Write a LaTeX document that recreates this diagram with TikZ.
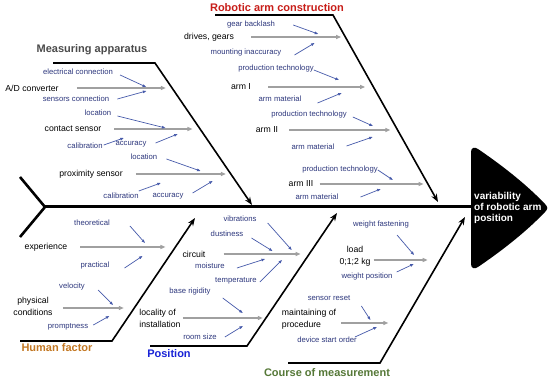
\documentclass[tikz,border=0pt]{standalone}
\usepackage{fontspec}
\setmainfont{Liberation Sans}
\usetikzlibrary{arrows.meta, positioning}
\definecolor{subblue}{RGB}{45,55,125}
\definecolor{tipblue}{RGB}{70,90,170}
\definecolor{shaftgray}{RGB}{160,160,160}
\definecolor{headgray}{RGB}{75,75,75}
\definecolor{armred}{RGB}{200,30,25}
\definecolor{humanorange}{RGB}{195,120,35}
\definecolor{posblue}{RGB}{25,35,215}
\definecolor{coursegreen}{RGB}{85,120,55}

\begin{document}
\begin{tikzpicture}[x=1pt, y=-1pt,
  cause/.style={inner sep=0pt, font=\fontsize{8.7}{12}\selectfont},
  sub/.style={inner sep=0pt, text=subblue, font=\fontsize{7.7}{9}\selectfont},
  cat/.style={inner sep=0pt, font=\bfseries\fontsize{11}{13}\selectfont},
  effect/.style={inner sep=0pt, align=left, text=white, font=\bfseries\fontsize{10}{11}\selectfont},
  shaft/.style={draw=shaftgray, line width=1.4pt, -{Triangle[length=5pt,width=4pt]}},
  twig/.style={draw=tipblue, line width=0.7pt, -{Triangle[length=3.5pt,width=2.6pt]}},
  bone/.style={draw=black, line width=1.6pt, -{Stealth[length=8pt,width=6pt]}}
]
  \useasboundingbox (0,0) rectangle (550,382);
  \fill[white] (0,0) rectangle (550,382);

  % spine and head
  \coordinate (t1) at (20,177);
  \coordinate (t0) at (45,207);
  \coordinate (t2) at (20,237);
  \coordinate (hd) at (471,207);
  \draw[line width=2.6pt] (t1) -- (t0) -- (t2);
  \draw[line width=3pt] (t0) -- (hd);
  \fill (471,152) .. controls (471,147) and (475,147) .. (478,149)
    .. controls (500,164) and (525,183) .. (545,204)
    .. controls (548,207) and (548,209) .. (545,212)
    .. controls (525,233) and (500,252) .. (478,267)
    .. controls (475,269) and (471,269) .. (471,264) -- cycle;
  \node[effect, anchor=west] (eff) at (474,208) {variability\\of robotic arm\\position};

  % bones
  \coordinate (ma1) at (53,63);  \coordinate (ma2) at (155,63);  \coordinate (ma3) at (252,205);
  \coordinate (ra1) at (215,15); \coordinate (ra2) at (333,15);  \coordinate (ra3) at (438,202);
  \coordinate (hf1) at (20,341); \coordinate (hf2) at (112,341); \coordinate (hf3) at (195,218);
  \coordinate (po1) at (150,346); \coordinate (po2) at (247,346); \coordinate (po3) at (337,213);
  \coordinate (cm1) at (288,363); \coordinate (cm2) at (380,363); \coordinate (cm3) at (465,217);
  \draw[bone] (ma1) -- (ma2) -- (ma3);
  \draw[bone] (ra1) -- (ra2) -- (ra3);
  \draw[bone] (hf1) -- (hf2) -- (hf3);
  \draw[bone] (po1) -- (po2) -- (po3);
  \draw[bone] (cm1) -- (cm2) -- (cm3);

  % Measuring apparatus
  \node[cat, text=headgray] (ma) at (92,50) {Measuring apparatus};
  \node[sub] (ec) at (78,72) {electrical connection};
  \node[cause] (ad) at (32,88) {A/D converter};
  \node[sub] (sc) at (76,99) {sensors connection};
  \node[sub] (lo1) at (98,113) {location};
  \node[cause] (cs) at (73,129) {contact sensor};
  \node[sub] (ca1) at (85,146) {calibration};
  \node[sub] (ac1) at (131,144) {accuracy};
  \node[sub] (lo2) at (144,157) {location};
  \node[cause] (ps) at (91,174) {proximity sensor};
  \node[sub] (ca2) at (121,196) {calibration};
  \node[sub] (ac2) at (168,196) {accuracy};
  \draw[shaft] (ad.east) ++(18,0) -- ++(89,0);
  \draw[shaft] (cs.east) ++(13,0) -- ++(78,0);
  \draw[shaft] (ps.east) ++(13,0) -- ++(90,0);
  \draw[twig] (ec.east) ++(7,3) -- ++(26,12);
  \draw[twig] (sc.east) ++(8,0) -- ++(29,-8);
  \draw[twig] (lo1.east) ++(6,3) -- ++(48,12);
  \draw[twig] (ca1.east) ++(1,-1) -- ++(20,-7);
  \draw[twig] (ac1.east) ++(9,-1) -- ++(22,-9);
  \draw[twig] (lo2.east) ++(9,2) -- ++(34,12);
  \draw[twig] (ca2.east) ++(0,-5) -- ++(22,-8);
  \draw[twig] (ac2.east) ++(9,-3) -- ++(20,-12);

  % Robotic arm construction
  \node[cat, text=armred] (ra) at (277,8) {Robotic arm construction};
  \node[sub] (gb) at (251,25) {gear backlash};
  \node[cause] (dg) at (209,37) {drives, gears};
  \node[sub] (mi) at (246,53) {mounting inaccuracy};
  \node[sub] (pt1) at (276,69) {production technology};
  \node[cause] (a1) at (241,87) {arm I};
  \node[sub] (am1) at (280,99) {arm material};
  \node[sub] (pt2) at (309,115) {production technology};
  \node[cause] (a2) at (267,130) {arm II};
  \node[sub] (am2) at (313,147) {arm material};
  \node[sub] (pt3) at (340,170) {production technology};
  \node[cause] (a3) at (301,184) {arm III};
  \node[sub] (am3) at (317,197) {arm material};
  \draw[shaft] (dg.east) ++(17,0) -- ++(90,0);
  \draw[shaft] (a1.east) ++(17,0) -- ++(97,0);
  \draw[shaft] (a2.east) ++(11,0) -- ++(101,0);
  \draw[shaft] (a3.east) ++(6,0) -- ++(104,0);
  \draw[twig] (gb.east) ++(18,0) -- ++(25,9);
  \draw[twig] (mi.east) ++(13,2) -- ++(20,-12);
  \draw[twig] (pt1.east) ++(0,1) -- ++(25,10);
  \draw[twig] (am1.east) ++(16,4) -- ++(24,-10);
  \draw[twig] (pt2.east) ++(6,2) -- ++(20,9);
  \draw[twig] (am2.east) ++(12,-1) -- ++(26,-9);
  \draw[twig] (pt3.east) ++(0,0) -- ++(15,10);
  \draw[twig] (am3.east) ++(22,0) -- ++(20,-8);

  % Human factor
  \node[cat, text=humanorange] (hf) at (57,348) {Human factor};
  \node[sub] (th) at (92,223) {theoretical};
  \node[cause] (ex) at (46,247) {experience};
  \node[sub] (pr) at (95,266) {practical};
  \node[sub] (ve) at (72,287) {velocity};
  \node[cause, align=center] (pc) at (33,306) {physical\\conditions};
  \node[sub] (pm) at (68,327) {promptness};
  \draw[shaft] (ex.east) ++(13,0) -- ++(85,0);
  \draw[shaft] (pc.east) ++(10,2) -- ++(61,0);
  \draw[twig] (th.east) ++(20,3) -- ++(15,17);
  \draw[twig] (pr.east) ++(15,2) -- ++(18,-12);
  \draw[twig] (ve.east) ++(13,3) -- ++(15,15);
  \draw[twig] (pm.east) ++(5,-2) -- ++(16,-9);

  % Position
  \node[cat, text=posblue] (po) at (169,354) {Position};
  \node[sub] (vi) at (240,219) {vibrations};
  \node[sub] (du) at (227,234) {dustiness};
  \node[cause] (ci) at (194,254) {circuit};
  \node[sub] (mo) at (210,266) {moisture};
  \node[sub] (te) at (236,281) {temperature};
  \node[sub] (br) at (190,292) {base rigidity};
  \node[cause, align=left] (li) at (160,318) {locality of\\installation};
  \node[sub] (rs) at (200,337) {room size};
  \draw[shaft] (ci.east) ++(18,0) -- ++(77,0);
  \draw[shaft] (li.east) ++(2,0) -- ++(80,0);
  \draw[twig] (vi.east) ++(11,4) -- ++(24,27);
  \draw[twig] (du.east) ++(8,4) -- ++(21,13);
  \draw[twig] (mo.east) ++(12,2) -- ++(28,-9);
  \draw[twig] (te.east) ++(3,1) -- ++(22,-22);
  \draw[twig] (br.east) ++(12,6) -- ++(20,15);
  \draw[twig] (rs.east) ++(8,0) -- ++(18,-11);

  % Course of measurement
  \node[cat, text=coursegreen] (cm) at (327,373) {Course of measurement};
  \node[sub] (wf) at (381,225) {weight fastening};
  \node[cause, align=center] (ld) at (355,256) {load\\0;1;2 kg};
  \node[sub] (wp) at (367,277) {weight position};
  \node[sub] (sr) at (329,298) {sensor reset};
  \node[cause, align=left] (mp) at (309,319) {maintaining of\\procedure};
  \node[sub] (ds) at (327,340) {device start order};
  \draw[shaft] (ld.east) ++(3,4) -- ++(54,0);
  \draw[shaft] (mp.east) ++(5,4) -- ++(47,0);
  \draw[twig] (wf.east) ++(-12,10) -- ++(17,20);
  \draw[twig] (wp.east) ++(4,-5) -- ++(17,-8);
  \draw[twig] (sr.east) ++(11,8) -- ++(9,14);
  \draw[twig] (ds.east) ++(-2,-3) -- ++(22,-10);
\end{tikzpicture}
\end{document}
